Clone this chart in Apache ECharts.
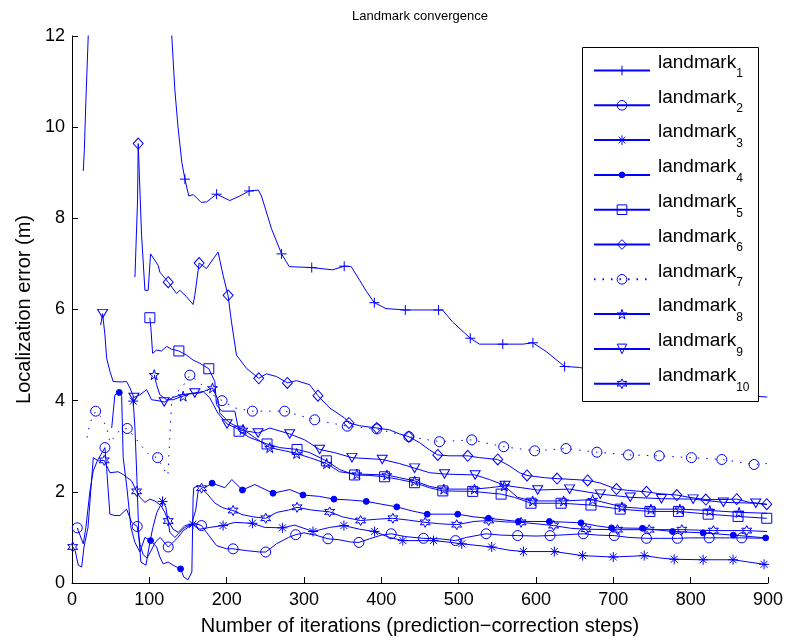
<!DOCTYPE html>
<html><head><meta charset="utf-8">
<script src="https://cdn.jsdelivr.net/npm/echarts@6/dist/echarts.min.js"></script>
<style>html,body{margin:0;padding:0;background:#fff}#c{width:788px;height:641px}</style>
</head><body><div id="c"></div>
<script>
// ---- data: [iteration, localization error (m)] ----
const L1 = [[14.6,9.04],[16,9.51],[18,10.6],[21,12.0],[24,14.5],[125,14.5],[129,12.0],[133,10.82],[137,10.02],[142,9.23],[146,8.86],[151,8.49],[157,8.52],[167,8.35],[174,8.36],[187,8.53],[204,8.39],[217,8.49],[229,8.60],[241,8.62],[245,8.49],[258,7.77],[271,7.22],[281,6.94],[310,6.92],[337,6.87],[352,6.95],[361,6.94],[372,6.64],[381,6.39],[391,6.15],[406,6.02],[431,5.99],[474,5.99],[479,5.99],[492,5.73],[515,5.37],[527,5.24],[557,5.24],[583,5.24],[596,5.27],[613,5.08],[637,4.75],[656,4.73],[700,4.55],[760,4.35],[820,4.2],[880,4.1],[899,4.08]];
const L1m = [146,187,229,271,310,352,391,431,474,515,557,596,637];

const L2 = [[6.8,1.21],[14.6,0.86],[18,1.22],[23.2,2.02],[27.5,2.46],[32.7,2.68],[42.6,2.97],[44.8,2.51],[49,1.51],[55.5,1.48],[62,1.48],[70.6,1.62],[77.1,1.33],[84.3,1.24],[88,0.85],[92,0.62],[97,0.55],[102,0.7],[108,0.9],[114,1.0],[119,0.9],[124.4,0.79],[130,0.88],[137,1.0],[144,1.15],[150,1.22],[156,1.29],[161,1.3],[167.5,1.26],[174,1.11],[187,0.82],[200,0.75],[208.3,0.75],[225.6,0.71],[242.8,0.68],[250.5,0.68],[264.3,0.86],[280,1.0],[289.3,1.06],[300,1.1],[315,1.05],[331,0.97],[345,0.95],[360,0.9],[371,0.89],[385,0.97],[400,1.05],[412.8,1.08],[430,1.02],[454.5,0.98],[475,0.97],[495.9,0.93],[510,1.0],[535.5,1.08],[555,1.05],[576.3,1.04],[600,1.03],[618.2,1.04],[640,1.06],[661.1,1.08],[680,1.05],[701.2,1.04],[720,1.0],[742.9,0.98],[760,0.98],[782.9,0.98],[800,0.99],[823.9,0.99],[845,0.99],[866.1,0.99],[899,0.98]];
const L2m = [6.8,42.6,84.3,124.4,167.5,208.3,250.5,289.3,331,371,412.8,454.5,495.9,535.5,576.3,618.2,661.1,701.2,742.9,782.9,823.9,866.1];

const L3 = [[79.2,3.99],[81.4,3.40],[83.9,2.31],[86.5,1.0],[89.1,0.46],[95.6,0.39],[100.7,0.89],[104.6,1.22],[109.8,1.55],[117.1,1.79],[121.4,1.66],[126.5,1.11],[133,1.0],[139.5,1.11],[145.9,1.22],[156.2,1.29],[165.3,1.18],[178.2,1.22],[195.4,1.26],[210.5,1.33],[233.3,1.31],[249.2,1.22],[272.1,1.21],[288,1.27],[311.6,1.13],[333.2,1.22],[351.6,1.26],[371.9,1.18],[391.3,1.13],[410.6,1.0],[427.8,0.93],[467.5,0.93],[485,0.9],[504,0.86],[542.7,0.79],[565,0.72],[583.7,0.69],[623.7,0.69],[640,0.65],[660.3,0.60],[699.9,0.57],[739.9,0.60],[760,0.55],[778.7,0.52],[816.1,0.51],[854.8,0.51],[894.9,0.41],[899,0.40]];
const L3m = [79.2,117.1,156.2,195.4,233.3,272.1,311.6,351.6,391.3,427.8,467.5,504,542.7,583.7,623.7,660.3,699.9,739.9,778.7,816.1,854.8,894.9];

const L4 = [[51.3,3.40],[55.5,4.13],[61.1,4.18],[64.2,4.10],[66.2,2.75],[71,2.09],[76.2,1.22],[81.4,0.89],[87.8,0.68],[94.3,1.0],[101.6,0.93],[109.4,0.79],[113.6,0.57],[117.9,0.42],[124.4,0.46],[130.8,0.39],[140.4,0.31],[144.6,0.13],[149.8,0.07],[155,0.24],[156.6,1.88],[157.5,2.09],[163.1,2.13],[171.7,2.09],[181.2,2.19],[197.6,2.09],[206.6,2.27],[220.4,2.04],[236.3,2.16],[259.9,1.97],[281.5,2.05],[298.7,1.93],[320,1.9],[338.7,1.84],[360,1.82],[380.5,1.79],[400,1.73],[420,1.67],[440,1.58],[459.3,1.51],[498.8,1.51],[520,1.45],[538.5,1.42],[577.2,1.35],[617.3,1.35],[658.2,1.32],[680,1.25],[697.7,1.21],[737.7,1.20],[776.5,1.13],[816.1,1.10],[855.2,1.05],[897,0.99],[899,0.99]];
const L4m = [61.1,101.6,140.4,181.2,220.4,259.9,298.7,338.7,380.5,420,459.3,498.8,538.5,577.2,617.3,658.2,697.7,737.7,776.5,816.1,855.2,897];

const L5 = [[100.7,5.82],[102,5.6],[104.2,5.04],[109.4,5.11],[115.8,5.09],[122.3,5.19],[128.7,5.13],[138.2,5.09],[148.1,5.00],[156.6,4.89],[165.3,4.82],[176.9,4.70],[184.7,4.42],[186.8,3.91],[193.7,3.77],[210.5,3.77],[214.4,3.45],[216,3.33],[229.9,3.19],[252.2,3.05],[268.6,2.97],[291,2.93],[307.3,2.86],[328.9,2.68],[346,2.49],[365.4,2.37],[384.8,2.36],[404.2,2.33],[423.5,2.27],[443,2.20],[462.3,2.09],[479.5,2.02],[518.2,2.01],[554.9,1.95],[572,1.88],[593.6,1.75],[632.4,1.75],[671.1,1.71],[708.9,1.62],[747.3,1.57],[784.2,1.57],[822.6,1.51],[861.3,1.46],[898.4,1.42]];
const L5m = [100.7,138.2,176.9,216,252.2,291,328.9,365.4,404.2,443,479.5,518.2,554.9,593.6,632.4,671.1,708.9,747.3,784.2,822.6,861.3,898.4];

const L6 = [[81.4,6.71],[84.8,8.42],[85.6,9.64],[90,7.62],[94.3,6.42],[98.5,6.42],[101.6,7.22],[111.4,6.97],[113.6,6.82],[124.4,6.60],[135.2,6.35],[139.5,6.42],[148.1,6.28],[156.6,6.11],[158.8,6.31],[164.4,7.02],[173.9,6.90],[188.9,7.26],[195.4,6.75],[201.8,6.31],[206.2,5.73],[212.7,5.00],[225.6,4.71],[241.5,4.49],[251.4,4.59],[264.3,4.53],[278.5,4.39],[290.2,4.44],[307.3,4.35],[318,4.11],[333.2,3.84],[352.5,3.62],[358.1,3.51],[371.9,3.45],[394.2,3.40],[410.6,3.36],[423.5,3.27],[435.6,3.21],[449.4,3.08],[462.3,2.92],[473,2.81],[488.1,2.79],[511.7,2.79],[526.9,2.75],[550.5,2.71],[565.6,2.57],[578.5,2.42],[588.4,2.36],[610.8,2.31],[627.2,2.29],[649.5,2.27],[666.7,2.25],[681.8,2.20],[704.1,2.06],[720.5,2.03],[742.9,2.00],[759.3,1.96],[782.1,1.93],[798,1.88],[819.6,1.83],[836.8,1.83],[859.6,1.84],[875.5,1.77],[898.4,1.73]];
const L6m = [85.6,124.4,164.4,201.8,241.5,278.5,318,358.1,394.2,435.6,473,511.7,550.5,588.4,627.2,666.7,704.1,742.9,782.1,819.6,859.6,898.4];

const L7 = [[19.4,3.19],[23.2,3.51],[30.6,3.77],[38.7,3.62],[45.2,3.40],[49,3.08],[54.2,3.19],[62,3.36],[71.4,3.39],[81.4,3.19],[91.7,2.97],[100.7,2.79],[110.7,2.75],[117.5,2.53],[124,2.36],[126.5,3.19],[129.1,4.06],[134.3,4.17],[142,4.28],[152.4,4.56],[165.3,4.39],[178.2,4.17],[194.1,4.00],[210.5,3.84],[233.3,3.77],[275,3.77],[313.8,3.58],[356,3.44],[394.2,3.38],[435.6,3.21],[475.2,3.10],[516.9,3.14],[558.2,2.99],[598.3,2.90],[638.8,2.95],[678.8,2.87],[719.6,2.81],[759.3,2.79],[801,2.75],[840.3,2.71],[882,2.60],[898.8,2.62]];
const L7m = [30.6,71.4,110.7,152.4,194.1,233.3,275,313.8,356,394.2,435.6,475.2,516.9,558.2,598.3,638.8,678.8,719.6,759.3,801,840.3,882];

const L8 = [[106.3,4.57],[109.4,4.35],[113.6,4.13],[122.3,4.02],[130.8,4.02],[136.9,4.06],[143.7,4.10],[152.4,4.15],[165.3,4.17],[174.3,4.23],[181.7,4.28],[188.9,4.02],[191.1,3.73],[197.6,3.62],[204,3.51],[221.2,3.37],[236.3,3.19],[255.7,2.97],[275,2.90],[290.5,2.84],[307.3,2.75],[329.3,2.62],[346,2.44],[368.4,2.39],[407.1,2.37],[423.5,2.31],[443,2.24],[462.3,2.12],[480.8,2.06],[520.4,2.06],[539.8,2.09],[559.1,2.13],[576,1.88],[595.7,1.80],[635.7,1.80],[673.2,1.83],[711.1,1.67],[748.6,1.62],[786,1.62],[824.8,1.59],[862.6,1.55],[898.8,1.53]];
const L8m = [106.3,143.7,181.7,221.2,255.7,290.5,329.3,368.4,407.1,443,480.8,520.4,559.1,595.7,635.7,673.2,711.1,748.6,786,824.8,862.6];

const L9 = [[37.1,5.66],[39.6,5.91],[42.6,5.44],[44.8,4.93],[49.1,4.64],[53.3,4.42],[64.2,4.41],[70.6,4.42],[74.9,4.28],[80.1,4.07],[87.8,4.13],[96.5,4.24],[102.9,4.02],[111.4,4.00],[119.2,3.97],[130.8,4.07],[141.7,4.13],[158.8,4.17],[169.6,4.20],[178.2,4.06],[188.5,3.73],[200.5,3.49],[217,3.36],[240.6,3.29],[255.7,3.40],[281.5,3.27],[300.9,3.14],[320.2,2.93],[339.6,2.86],[362,2.75],[401.2,2.71],[423.5,2.62],[443,2.52],[462.3,2.42],[481.7,2.39],[521.3,2.37],[539.8,2.27],[560,2.14],[602.2,2.04],[643.4,2.06],[683.1,1.95],[721.9,1.88],[762.2,1.85],[803.2,1.84],[842.3,1.77],[884.2,1.75],[898.8,1.72]];
const L9m = [39.6,80.1,119.2,158.8,200.5,240.6,281.5,320.2,362,401.2,443,481.7,521.3,560,602.2,643.4,683.1,721.9,762.2,803.2,842.3,884.2];

const L10 = [[0.9,0.79],[4,0.72],[8.1,0.39],[12.5,0.35],[15.5,0.79],[20.7,1.22],[25.4,2.28],[27.5,2.75],[34,2.68],[41.7,2.69],[49,2.42],[59.8,2.44],[66.2,2.38],[77.1,2.24],[83.5,2.01],[87.8,1.88],[94.3,1.77],[100.7,1.84],[107.2,1.80],[115,1.7],[120,1.55],[124.4,1.36],[130.8,1.18],[137.3,1.11],[145.9,1.26],[154.6,1.29],[160,1.6],[163,2.0],[167.5,2.08],[175,1.95],[185,1.75],[195,1.65],[208.3,1.59],[220,1.5],[235,1.45],[250.5,1.42],[265,1.55],[280,1.6],[291,1.66],[310,1.6],[333.2,1.56],[350,1.45],[373.2,1.37],[395,1.4],[414.9,1.42],[435,1.38],[456.7,1.33],[475,1.3],[497.5,1.28],[520,1.35],[538.9,1.37],[560,1.34],[580.7,1.33],[600,1.3],[622.8,1.26],[645,1.2],[664.6,1.18],[705.4,1.17],[746.4,1.17],[788.6,1.17],[829.4,1.15],[872.5,1.15],[898.8,1.13]];
const L10m = [0.9,41.7,83.5,124.4,167.5,208.3,250.5,291,333.2,373.2,414.9,456.7,497.5,538.9,580.7,622.8,664.6,705.4,746.4,788.6,829.4,872.5];

const seriesNames = ['landmark1','landmark2','landmark3','landmark4','landmark5','landmark6','landmark7','landmark8','landmark9','landmark10'];
const xTicks = [0,100,200,300,400,500,600,700,800,900];
const yTicks = [0,2,4,6,8,10,12];

// ---- styling ----
const BLUE = '#0000ff';
const FONT = 'Liberation Sans, Arial, Helvetica, sans-serif';
const SYM = [
  'path://M0,-1L0,1M-1,0L1,0',
  'circle',
  'path://M0,-1L0,1M-1,0L1,0M-0.7,-0.7L0.7,0.7M-0.7,0.7L0.7,-0.7',
  'path://M-1.7,-1.7M1.7,1.7M1,0A1,1,0,1,1,-1,0A1,1,0,1,1,1,0Z',
  'rect',
  'diamond',
  'circle',
  'path://M0,-1L0.2235,-0.3074L0.951,-0.309L0.361,0.117L0.588,0.809L0,0.38L-0.588,0.809L-0.361,0.117L-0.951,-0.309L-0.2235,-0.3074Z',
  'path://M-1,-0.85L1,-0.85L0,0.85Z',
  'path://M0,-1L0.25,-0.433L0.866,-0.5L0.5,0L0.866,0.5L0.25,0.433L0,1L-0.25,0.433L-0.866,0.5L-0.5,0L-0.866,-0.5L-0.25,-0.433Z'
];
const SIZE = [10,10,10,10,10,[10,11],10,10,[10,8.5],10];
const FILL = i => (i === 3 ? BLUE : 'rgba(0,0,0,0)');

function build(data, marks) {
  const flags = data.map(() => false);
  marks.forEach(m => {
    let bi = 0, bd = Infinity;
    data.forEach((p, i) => { const d = Math.abs(p[0] - m); if (d < bd) { bd = d; bi = i; } });
    flags[bi] = true;
  });
  return data.map((p, i) => flags[i] ? { value: p } : { value: p, symbol: 'none' });
}

const allData = [L1, L2, L3, L4, L5, L6, L7, L8, L9, L10];
const allMarks = [L1m, L2m, L3m, L4m, L5m, L6m, L7m, L8m, L9m, L10m];

const series = seriesNames.map((name, i) => ({
  name: name,
  type: 'line',
  data: build(allData[i], allMarks[i]),
  symbol: SYM[i],
  symbolSize: SIZE[i],
  showSymbol: true,
  clip: true,
  z: 2,
  lineStyle: { color: BLUE, width: 1, type: i === 6 ? [1.5, 7] : 'solid' },
  itemStyle: { color: FILL(i), borderColor: BLUE, borderWidth: 1 },
  emphasis: { disabled: true },
  animation: false
}));

const chart = echarts.init(document.getElementById('c'), null, { renderer: 'canvas' });
chart.setOption({
  backgroundColor: '#fff',
  animation: false,
  title: {
    text: 'Landmark convergence', left: 420, top: 10, textAlign: 'center', padding: 0,
    textStyle: { fontSize: 13, fontWeight: 'normal', color: '#000', fontFamily: FONT }
  },
  grid: { left: 72, right: 20, top: 36, bottom: 55, containLabel: false },
  xAxis: {
    type: 'value', min: xTicks[0], max: xTicks[xTicks.length - 1], interval: 100,
    name: 'Number of iterations (prediction\u2212correction steps)', nameLocation: 'middle', nameGap: 33,
    nameTextStyle: { fontSize: 20, color: '#000', fontFamily: FONT },
    axisLine: { show: true, onZero: false, lineStyle: { color: '#000', width: 1 } },
    axisTick: { show: true, inside: true, length: 6, lineStyle: { color: '#000' } },
    axisLabel: { fontSize: 18, color: '#000', fontFamily: FONT, margin: 8 },
    splitLine: { show: false }
  },
  yAxis: {
    type: 'value', min: yTicks[0], max: yTicks[yTicks.length - 1], interval: 2,
    name: 'Localization error (m)', nameLocation: 'middle', nameGap: 33,
    nameTextStyle: { fontSize: 20, color: '#000', fontFamily: FONT },
    axisLine: { show: true, onZero: false, lineStyle: { color: '#000', width: 1 } },
    axisTick: { show: true, inside: true, length: 6, lineStyle: { color: '#000' } },
    axisLabel: { fontSize: 18, color: '#000', fontFamily: FONT, margin: 7 },
    splitLine: { show: false }
  },
  graphic: [{
    type: 'rect', z: 3,
    shape: { x: 582.5, y: 47.5, width: 176, height: 354 },
    style: { fill: '#fff', stroke: '#000', lineWidth: 1 }
  }],
  legend: {
    data: seriesNames.map((n, i) => ({ name: n, itemStyle: { color: FILL(i), borderColor: BLUE, borderWidth: 1 } })),
    orient: 'vertical', left: 593, top: 53, padding: 0,
    itemWidth: 56, itemHeight: 12, itemGap: 7.8, selectedMode: false, z: 10,
    formatter: name => '{a|landmark}{b|' + name.slice(8) + '}',
    textStyle: {
      color: '#000', fontFamily: FONT,
      rich: {
        a: { fontSize: 19, lineHeight: 19, color: '#000', fontFamily: FONT, verticalAlign: 'bottom', padding: [0, 0, 8, 3] },
        b: { fontSize: 12, lineHeight: 12, color: '#000', fontFamily: FONT, verticalAlign: 'bottom' }
      }
    }
  },
  series: series
});
</script></body></html>
